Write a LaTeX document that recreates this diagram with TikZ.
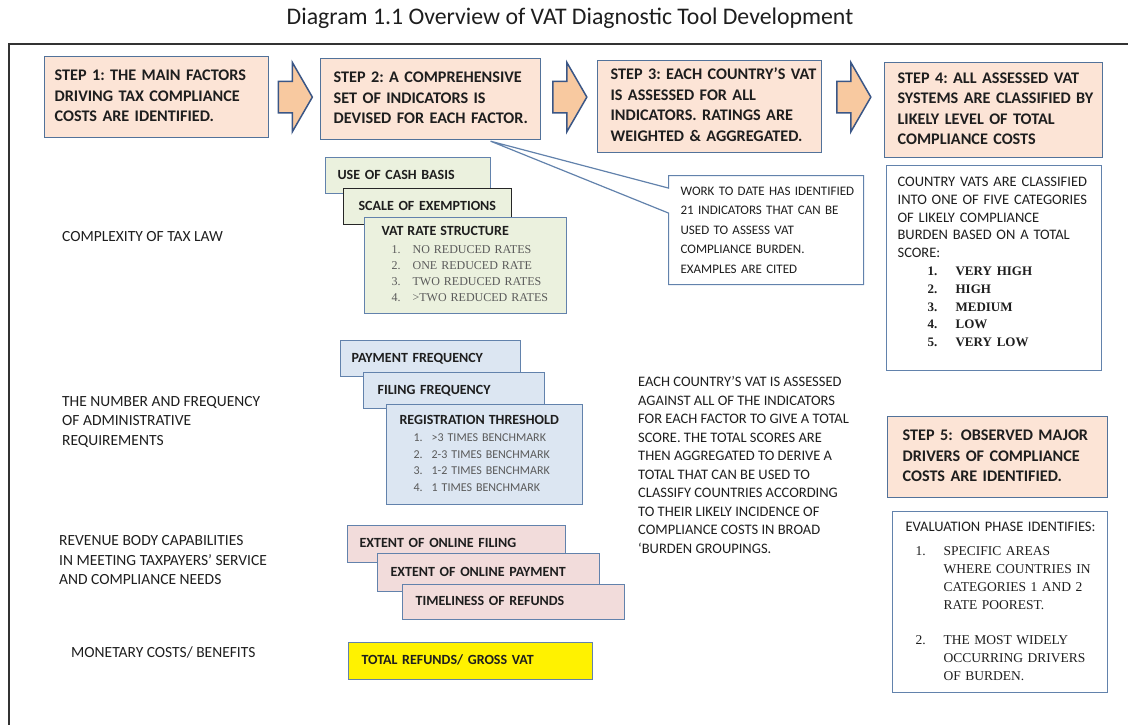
\documentclass[tikz,border=0pt]{standalone}
\usepackage{fontspec}
\setmainfont{Carlito}
\newfontfamily\seriffont{Liberation Serif}
\usetikzlibrary{positioning, calc, shapes.arrows, shapes.callouts}
\frenchspacing

\definecolor{stepfill}{HTML}{FCE4D6}
\definecolor{stepline}{HTML}{52729A}
\definecolor{arrowfill}{HTML}{F8C9A0}
\definecolor{arrowline}{HTML}{3A5686}
\definecolor{greenfill}{HTML}{EBF1DE}
\definecolor{bluefill}{HTML}{DCE6F2}
\definecolor{pinkfill}{HTML}{F2DCDB}
\definecolor{boxline}{HTML}{6282AC}
\definecolor{txt}{HTML}{1E1E1E}
\definecolor{listgray}{HTML}{5A5A5A}

% lines of a box, never broken
\newcommand{\rows}[1]{\begin{tabular}{@{}l@{}}#1\end{tabular}}
% numbered line: indent, number box, number, text
\newcommand{\numrow}[4]{\hspace*{#1}\makebox[#2][l]{#3}#4}

\begin{document}
\begin{tikzpicture}[x=1pt, y=-1pt]

\tikzset{box/.style = {draw=boxline, line width=1.2pt, anchor=north west, align=left, text=txt}}
\tikzset{stepbox/.style = {box, fill=stepfill, draw=stepline, font=\bfseries\fontsize{16.2}{20.5}\selectfont}}
\tikzset{indbox/.style = {box, font=\bfseries\fontsize{14}{17}\selectfont}}
\tikzset{blockarrow/.style = {single arrow, draw=arrowline, fill=arrowfill, line width=1.5pt,
    minimum height=34pt, inner ysep=15pt, inner xsep=0pt, single arrow head extend=19pt,
    single arrow tip angle=120, anchor=tail}}
\tikzset{factor/.style = {anchor=west, align=left, inner sep=0pt, text=txt, font=\fontsize{15.5}{19.5}\selectfont}}

\useasboundingbox (0,0) rectangle (1128,725);

% title and frame
\node[text=txt, font=\fontsize{23.8}{28}\selectfont] (title) at (570,18) {Diagram 1.1 Overview of VAT Diagnostic Tool Development};
\draw[line width=1.6pt, draw=black!80] (9,725) -- (9,44) -- (1128,44);

% steps
\node[stepbox, minimum width=224pt, minimum height=81pt, inner xsep=10pt, text width=204pt] (s1) at (44,56)
  {\rows{STEP 1: THE MAIN FACTORS\\ DRIVING TAX COMPLIANCE\\ COSTS ARE IDENTIFIED.}};
\node[stepbox, minimum width=220pt, minimum height=81pt, inner xsep=13pt, text width=194pt] (s2) at (320,58)
  {\rows{STEP 2: A COMPREHENSIVE\\ SET OF INDICATORS IS\\ DEVISED FOR EACH FACTOR.}};
\node[stepbox, minimum width=224pt, minimum height=92pt, inner xsep=13pt, text width=198pt] (s3) at (597,60)
  {\rows{STEP 3: EACH COUNTRY'S VAT\\ IS ASSESSED FOR ALL\\ INDICATORS. RATINGS ARE\\ WEIGHTED \& AGGREGATED.}};
\node[stepbox, minimum width=218pt, minimum height=95pt, inner xsep=13pt, text width=192pt] (s4) at (884,62)
  {\rows{STEP 4: ALL ASSESSED VAT\\ SYSTEMS ARE CLASSIFIED BY\\ LIKELY LEVEL OF TOTAL\\ COMPLIANCE COSTS}};
\node[stepbox, minimum width=220pt, minimum height=81pt, inner xsep=15pt, text width=190pt] (s5) at (887,416)
  {\rows{STEP 5: \,OBSERVED MAJOR\\ DRIVERS OF COMPLIANCE\\ COSTS ARE IDENTIFIED.}};

% arrows between steps
\coordinate (m1) at ($(s1.east)!0.5!(s2.west)$);
\coordinate (m2) at ($(s2.east)!0.5!(s3.west)$);
\coordinate (m3) at ($(s3.east)!0.5!(s4.west)$);
\node[blockarrow, xshift=-17pt] (a1) at (m1 |- s1.east) {};
\node[blockarrow, xshift=-17pt] (a2) at (m2 |- s1.east) {};
\node[blockarrow, xshift=-17pt] (a3) at (m3 |- s1.east) {};

% note on step 2
\node[box, rectangle callout, fill=white, callout absolute pointer={($(s2.south)+(60,1)$)}, callout pointer width=25pt,
  minimum width=195pt, minimum height=109pt, inner xsep=12pt, text width=171pt, font=\fontsize{13}{19.5}\selectfont] (note) at (668,175)
  {\rows{WORK TO DATE HAS IDENTIFIED\\ 21 INDICATORS THAT CAN BE\\ USED TO ASSESS VAT\\ COMPLIANCE BURDEN.\\ EXAMPLES ARE CITED}};

% factors
\node[factor] (f1) at (62,237) {COMPLEXITY OF TAX LAW};
\node[factor] (f2) at (62,421.5) {THE NUMBER AND FREQUENCY\\ OF ADMINISTRATIVE\\ REQUIREMENTS};
\node[factor] (f3) at (59,560.5) {REVENUE BODY CAPABILITIES\\ IN MEETING TAXPAYERS' SERVICE\\ AND COMPLIANCE NEEDS};
\node[factor] (f4) at (71,652) {MONETARY COSTS/ BENEFITS};

% indicators: complexity
\node[indbox, fill=greenfill, minimum width=165pt, minimum height=36pt, inner xsep=12pt, text width=141pt] (cash) at (325,157)
  {\rows{USE OF CASH BASIS}};
\node[indbox, fill=greenfill, draw=black!85, minimum width=168pt, minimum height=36pt, inner xsep=15pt, text width=138pt] (exempt) at (343,188)
  {\rows{SCALE OF EXEMPTIONS}};
\node[indbox, fill=greenfill, minimum width=202pt, minimum height=96pt, inner xsep=17pt, text width=168pt,
  font=\seriffont\fontsize{12}{16}\selectfont, text=listgray] (rate) at (364,217)
  {\rows{{\normalfont\bfseries\fontsize{14}{16}\selectfont\color{txt}VAT RATE STRUCTURE}\\[2pt]
   \numrow{10pt}{21pt}{1.}{NO REDUCED RATES}\\ \numrow{10pt}{21pt}{2.}{ONE REDUCED RATE}\\
   \numrow{10pt}{21pt}{3.}{TWO REDUCED RATES}\\ \numrow{10pt}{21pt}{4.}{>TWO REDUCED RATES}}};

% indicators: administrative requirements
\node[indbox, fill=bluefill, minimum width=180pt, minimum height=36pt, inner xsep=11pt, text width=158pt] (pay) at (340,340)
  {\rows{PAYMENT FREQUENCY}};
\node[indbox, fill=bluefill, minimum width=181pt, minimum height=36pt, inner xsep=14pt, text width=153pt] (filing) at (363,372)
  {\rows{FILING FREQUENCY}};
\node[indbox, fill=bluefill, minimum width=196pt, minimum height=100pt, inner xsep=13pt, text width=170pt,
  font=\fontsize{12}{16.5}\selectfont, text=listgray] (thresh) at (386,404)
  {\rows{{\bfseries\fontsize{14}{16.5}\selectfont\color{txt}REGISTRATION THRESHOLD}\\[0.5pt]
   \numrow{14pt}{18pt}{1.}{>3 TIMES BENCHMARK}\\ \numrow{14pt}{18pt}{2.}{2-3 TIMES BENCHMARK}\\
   \numrow{14pt}{18pt}{3.}{1-2 TIMES BENCHMARK}\\ \numrow{14pt}{18pt}{4.}{1 TIMES BENCHMARK}}};

% indicators: revenue body
\node[indbox, fill=pinkfill, minimum width=218pt, minimum height=37pt, inner xsep=12pt, text width=194pt] (online) at (347,525)
  {\rows{EXTENT OF ONLINE FILING}};
\node[indbox, fill=pinkfill, minimum width=222pt, minimum height=38pt, inner xsep=13pt, text width=196pt] (onpay) at (377,553)
  {\rows{EXTENT OF ONLINE PAYMENT}};
\node[indbox, fill=pinkfill, minimum width=222pt, minimum height=35pt, inner xsep=13pt, text width=196pt] (refund) at (402,584)
  {\rows{TIMELINESS OF REFUNDS}};

% indicator: monetary
\node[indbox, fill=yellow, minimum width=244pt, minimum height=37pt, inner xsep=13pt, text width=218pt] (gross) at (348,642)
  {\rows{TOTAL REFUNDS/ GROSS VAT}};

% assessment text
\node[factor, font=\fontsize{14.5}{18.5}\selectfont] (assess) at (638,465)
  {EACH COUNTRY'S VAT IS ASSESSED\\ AGAINST ALL OF THE INDICATORS\\ FOR EACH FACTOR TO GIVE A TOTAL\\
   SCORE. THE TOTAL SCORES ARE\\ THEN AGGREGATED TO DERIVE A\\ TOTAL THAT CAN BE USED TO\\
   CLASSIFY COUNTRIES ACCORDING\\ TO THEIR LIKELY INCIDENCE OF\\ COMPLIANCE COSTS IN BROAD\\ `BURDEN GROUPINGS.};

% classification
\node[box, fill=white, minimum width=215pt, minimum height=205pt, inner xsep=11pt, text width=193pt,
  font=\fontsize{14.5}{17.8}\selectfont] (classes) at (886,165)
  {\rows{COUNTRY VATS ARE CLASSIFIED\\ INTO ONE OF FIVE CATEGORIES\\ OF LIKELY COMPLIANCE\\ BURDEN BASED ON A TOTAL\\ SCORE:\\
   {\seriffont\bfseries\fontsize{13}{17.8}\selectfont\numrow{30pt}{28pt}{1.}{VERY HIGH}}\\
   {\seriffont\bfseries\fontsize{13}{17.8}\selectfont\numrow{30pt}{28pt}{2.}{HIGH}}\\
   {\seriffont\bfseries\fontsize{13}{17.8}\selectfont\numrow{30pt}{28pt}{3.}{MEDIUM}}\\
   {\seriffont\bfseries\fontsize{13}{17.8}\selectfont\numrow{30pt}{28pt}{4.}{LOW}}\\
   {\seriffont\bfseries\fontsize{13}{17.8}\selectfont\numrow{30pt}{28pt}{5.}{VERY LOW}}\\[10pt]}};

% evaluation
\node[box, fill=white, minimum width=215pt, minimum height=181pt, inner xsep=13pt, text width=189pt,
  font=\seriffont\fontsize{13.5}{18}\selectfont] (evalu) at (892,511)
  {\rows{{\normalfont\fontsize{14.5}{18}\selectfont EVALUATION PHASE IDENTIFIES:}\\[6pt]
   \numrow{10pt}{28pt}{1.}{SPECIFIC AREAS}\\ \numrow{10pt}{28pt}{}{WHERE COUNTRIES IN}\\
   \numrow{10pt}{28pt}{}{CATEGORIES 1 AND 2}\\ \numrow{10pt}{28pt}{}{RATE POOREST.}\\[17pt]
   \numrow{10pt}{28pt}{2.}{THE MOST WIDELY}\\ \numrow{10pt}{28pt}{}{OCCURRING DRIVERS}\\
   \numrow{10pt}{28pt}{}{OF BURDEN.}}};

\end{tikzpicture}
\end{document}
